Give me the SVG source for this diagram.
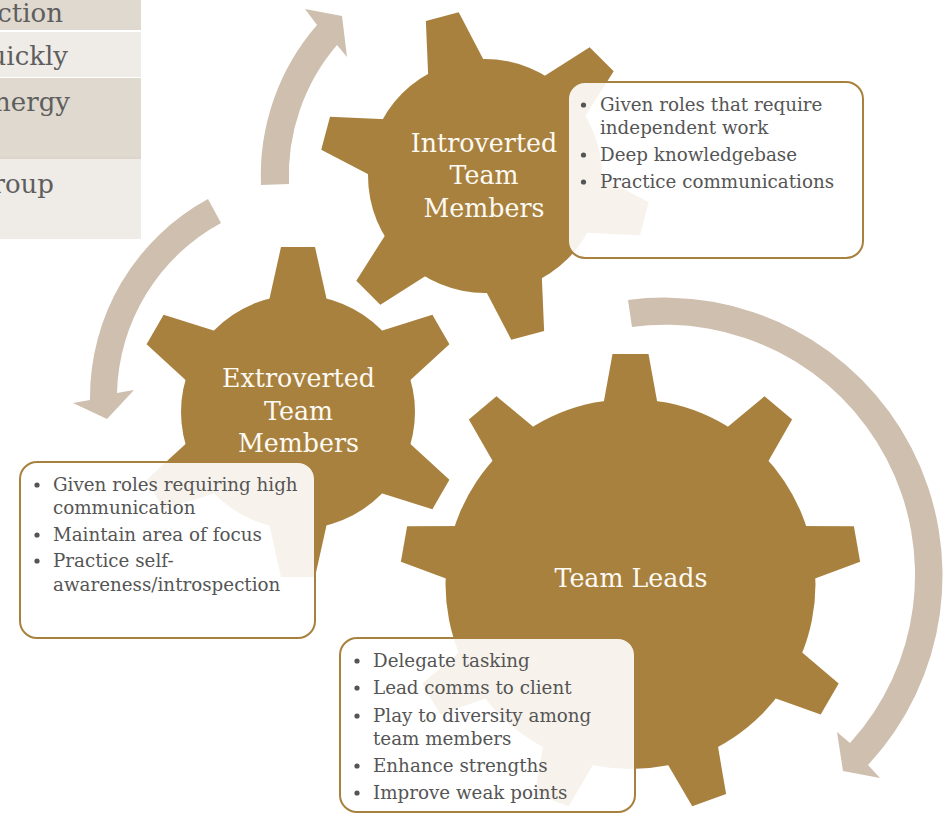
<svg xmlns="http://www.w3.org/2000/svg" xmlns:xlink="http://www.w3.org/1999/xlink" width="949" height="813" viewBox="0 0 949 813">
<defs>
<style>
.gear{fill:#a8813e}
.arrow{fill:#cfbfae}
.box{fill:#ffffff;fill-opacity:0.9;stroke:#a8813e;stroke-width:2}
.lbl{font-family:"DejaVu Serif","Liberation Serif",serif;font-size:25.3px;fill:#fdfaf3;text-anchor:middle}
.item{font-family:"DejaVu Serif","Liberation Serif",serif;font-size:18.3px;fill:#555555}
.dot{fill:#555555}
.tbl{font-family:"DejaVu Serif","Liberation Serif",serif;font-size:26px;fill:#5e5e5e;text-anchor:end}
.rowA{fill:#e0d9cf}
.rowB{fill:#efebe6}
</style>
<polygon id="tooth6" points="100,-31.5 165,-17 165,17 100,31.5"/>
<polygon id="tooth9" points="170,-28.9 230,-18 230,18 170,28.9"/>
</defs>
<rect width="949" height="813" fill="#ffffff"/>

<g id="table">
<rect class="rowA" x="0" y="0" width="141" height="30"/>
<rect class="rowB" x="0" y="32" width="141" height="45"/>
<rect class="rowA" x="0" y="78" width="141" height="79"/>
<rect x="0" y="157" width="141" height="2" fill="#dcd5cc"/>
<rect class="rowB" x="0" y="159" width="141" height="80"/>
<text class="tbl" x="63" y="22">ction</text>
<text class="tbl" x="68" y="65">uickly</text>
<text class="tbl" x="70" y="111">nergy</text>
<text class="tbl" x="54" y="193">roup</text>
</g>

<g id="connectors">
<path class="arrow" d="M261,185 A229,229 0 0 1 317,25 L305,9 L342,16 L347,57 L337,45 A201,201 0 0 0 289,184 Z"/>
<path class="arrow" d="M208,199 A226,226 0 0 0 90,400 L73,403 L107,419 L134,390 L117,393 A199,199 0 0 1 221,223 Z"/>
<path class="arrow" d="M628,300 A278,278 0 0 1 868,765 L880,778 L843,771 L837,732 L850,743 A250,250 0 0 0 632,327 Z"/>
</g>

<g id="gear-introverted">
<g class="gear" transform="translate(485,176)">
<circle r="117"/>
<use xlink:href="#tooth6" transform="rotate(-105)"/>
<use xlink:href="#tooth6" transform="rotate(-45)"/>
<use xlink:href="#tooth6" transform="rotate(15)"/>
<use xlink:href="#tooth6" transform="rotate(75)"/>
<use xlink:href="#tooth6" transform="rotate(135)"/>
<use xlink:href="#tooth6" transform="rotate(195)"/>
</g>
<text class="lbl" x="484" y="152">Introverted</text>
<text class="lbl" x="484" y="184">Team</text>
<text class="lbl" x="484" y="217">Members</text>
</g>

<g id="gear-extroverted">
<g class="gear" transform="translate(298,412)">
<circle r="117"/>
<use xlink:href="#tooth6" transform="rotate(-90)"/>
<use xlink:href="#tooth6" transform="rotate(-30)"/>
<use xlink:href="#tooth6" transform="rotate(30)"/>
<use xlink:href="#tooth6" transform="rotate(90)"/>
<use xlink:href="#tooth6" transform="rotate(150)"/>
<use xlink:href="#tooth6" transform="rotate(210)"/>
</g>
<text class="lbl" x="298.5" y="387">Extroverted</text>
<text class="lbl" x="298.5" y="420">Team</text>
<text class="lbl" x="298.5" y="452">Members</text>
</g>

<g id="gear-leads">
<g class="gear" transform="translate(630.5,584)">
<circle r="185"/>
<use xlink:href="#tooth9" transform="rotate(-90)"/>
<use xlink:href="#tooth9" transform="rotate(-50)"/>
<use xlink:href="#tooth9" transform="rotate(-10)"/>
<use xlink:href="#tooth9" transform="rotate(30)"/>
<use xlink:href="#tooth9" transform="rotate(70)"/>
<use xlink:href="#tooth9" transform="rotate(110)"/>
<use xlink:href="#tooth9" transform="rotate(150)"/>
<use xlink:href="#tooth9" transform="rotate(190)"/>
<use xlink:href="#tooth9" transform="rotate(230)"/>
</g>
<text class="lbl" x="631" y="587">Team Leads</text>
</g>

<g id="box-introverted">
<rect class="box" x="568" y="82" width="295" height="176" rx="17"/>
<circle class="dot" cx="583.5" cy="105" r="2.6"/>
<circle class="dot" cx="583.5" cy="155" r="2.6"/>
<circle class="dot" cx="583.5" cy="182" r="2.6"/>
<text class="item" x="600" y="111">Given roles that require</text>
<text class="item" x="600" y="134">independent work</text>
<text class="item" x="600" y="161">Deep knowledgebase</text>
<text class="item" x="600" y="188">Practice communications</text>
</g>

<g id="box-extroverted">
<rect class="box" x="20" y="462" width="295" height="176" rx="17"/>
<circle class="dot" cx="37" cy="485" r="2.6"/>
<circle class="dot" cx="37" cy="535" r="2.6"/>
<circle class="dot" cx="37" cy="561" r="2.6"/>
<text class="item" x="53" y="491">Given roles requiring high</text>
<text class="item" x="53" y="514">communication</text>
<text class="item" x="53" y="541">Maintain area of focus</text>
<text class="item" x="53" y="567">Practice self-</text>
<text class="item" x="53" y="591">awareness/introspection</text>
</g>

<g id="box-leads">
<rect class="box" x="340" y="638" width="295" height="174" rx="17"/>
<circle class="dot" cx="357" cy="661" r="2.6"/>
<circle class="dot" cx="357" cy="688" r="2.6"/>
<circle class="dot" cx="357" cy="716" r="2.6"/>
<circle class="dot" cx="357" cy="766" r="2.6"/>
<circle class="dot" cx="357" cy="793" r="2.6"/>
<text class="item" x="373" y="667">Delegate tasking</text>
<text class="item" x="373" y="694">Lead comms to client</text>
<text class="item" x="373" y="722">Play to diversity among</text>
<text class="item" x="373" y="745">team members</text>
<text class="item" x="373" y="772">Enhance strengths</text>
<text class="item" x="373" y="799">Improve weak points</text>
</g>
</svg>
